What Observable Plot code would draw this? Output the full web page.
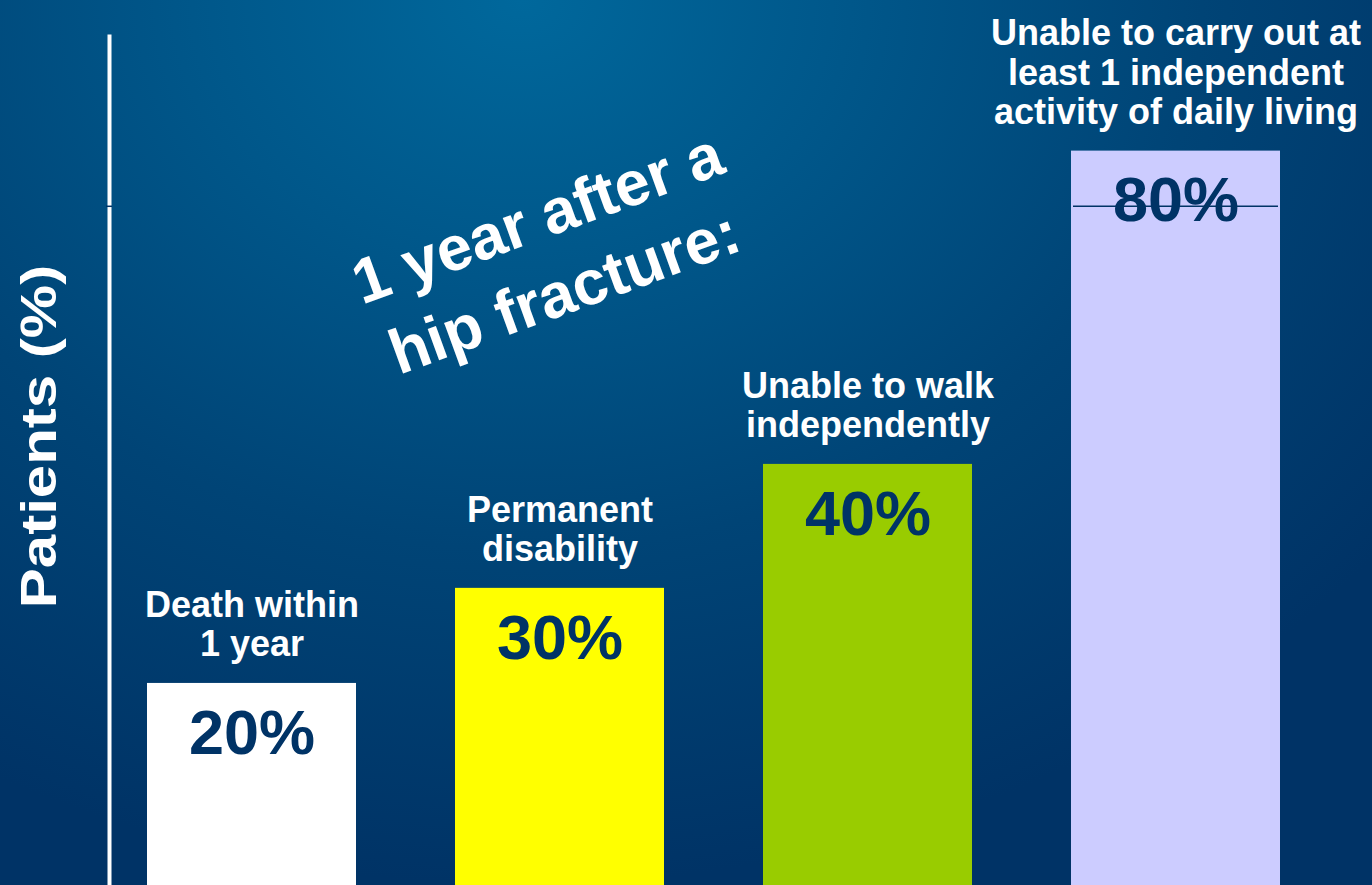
<!DOCTYPE html>
<html>
<head>
<meta charset="utf-8">
<script src="https://cdn.jsdelivr.net/npm/d3@7"></script>
<script src="https://cdn.jsdelivr.net/npm/@observablehq/plot@0.6"></script>
<style>
  html, body { margin: 0; padding: 0; background: #003366; overflow: hidden; }
  #chart { width: 1372px; height: 885px; }
</style>
</head>
<body>
<div id="chart"></div>
<script>
// ---- data ----
const categories = [
  "Death within 1 year",
  "Permanent disability",
  "Unable to walk independently",
  "Unable to carry out at least 1 independent activity of daily living"
];
const categoryLabels = [
  "Death within\n1 year",
  "Permanent\ndisability",
  "Unable to walk\nindependently",
  "Unable to carry out at\nleast 1 independent\nactivity of daily living"
];
// stated percentages (printed in the bars)
const values = [20, 30, 40, 80];
const valueLabels = ["20%", "30%", "40%", "80%"];
// bar tops as drawn on the slide's 0–100 axis (the slide is not to scale)
const barTops = [23.8, 35.0, 49.6, 86.5];
const yTicks = [80];
const yDomain = [0, 100];
const titleText = "1 year after a\nhip fracture:";
const yLabel = "Patients (%)";

const rows = categories.map((c, i) => ({
  category: c,
  label: categoryLabels[i],
  value: values[i],
  valueLabel: valueLabels[i],
  top: barTops[i]
}));

const font = "'Liberation Sans', Arial, Helvetica, sans-serif";
const W = 1372;

const chart = Plot.plot({
  width: W,
  height: 885,
  marginLeft: 109,
  marginTop: 36,
  marginRight: 0,
  marginBottom: 0,
  style: {
    background: "radial-gradient(ellipse 80% 100% at 38% 0%, #00689c 0%, #00578a 30%, #004476 62%, #003366 100%)",
    fontFamily: font,
    overflow: "visible"
  },
  x: {
    type: "band",
    domain: categories,
    range: [47, 1380],
    padding: 0.3225,
    axis: null
  },
  y: {
    domain: yDomain,
    axis: null
  },
  color: {
    domain: categories,
    range: ["#ffffff", "#ffff00", "#99cc00", "#ccccff"]
  },
  marks: [
    Plot.barY(rows, {x: "category", y: "top", fill: "category"}),
    // y axis line
    Plot.frame({anchor: "left", stroke: "#ffffff", strokeWidth: 4}),
    // axis tick notch at 80
    Plot.ruleY(yTicks, {stroke: "#003366", strokeWidth: 1.5, insetLeft: -3, insetRight: W - 109 - 3}),
    // gridline at 80, visible across bars that reach above it
    Plot.tickY(rows.filter(d => d.top > yTicks[0]), {
      x: "category", y: () => yTicks[0],
      stroke: "#003366", strokeWidth: 1.5, insetLeft: 2, insetRight: 2
    }),
    Plot.text(rows, {
      x: "category", y: "top", text: "label",
      lineAnchor: "bottom", dy: -27,
      fontSize: 36, fontWeight: "bold", lineHeight: 1.1,
      fill: "#ffffff"
    }),
    Plot.text(rows, {
      x: "category", y: "top", text: "valueLabel",
      lineAnchor: "middle", dy: 50,
      fontSize: 63, fontWeight: "bold",
      fill: "#003366"
    }),
    Plot.text([titleText], {
      frameAnchor: "top-left", dx: 440, dy: 215,
      rotate: -20, textAnchor: "middle", lineAnchor: "middle",
      fontSize: 63, fontWeight: "bold", lineHeight: 1.25,
      fill: "#ffffff"
    }),
    Plot.text([yLabel], {
      frameAnchor: "top-left", dx: -69.5, dy: 400,
      rotate: -90, textAnchor: "middle", lineAnchor: "middle",
      fontSize: 50, fontWeight: "bold",
      fill: "#ffffff"
    })
  ]
});

// the slide's axis title is drawn horizontally stretched along its length
d3.select(chart).selectAll("text").each(function () {
  if (this.textContent === yLabel) {
    const t = this.getAttribute("transform") || "";
    this.setAttribute("transform", t + " scale(1.2,1)");
  }
});
d3.select(chart).selectAll("g[aria-label='frame'] *").attr("stroke-width", 4);

document.getElementById("chart").appendChild(chart);
</script>
</body>
</html>
